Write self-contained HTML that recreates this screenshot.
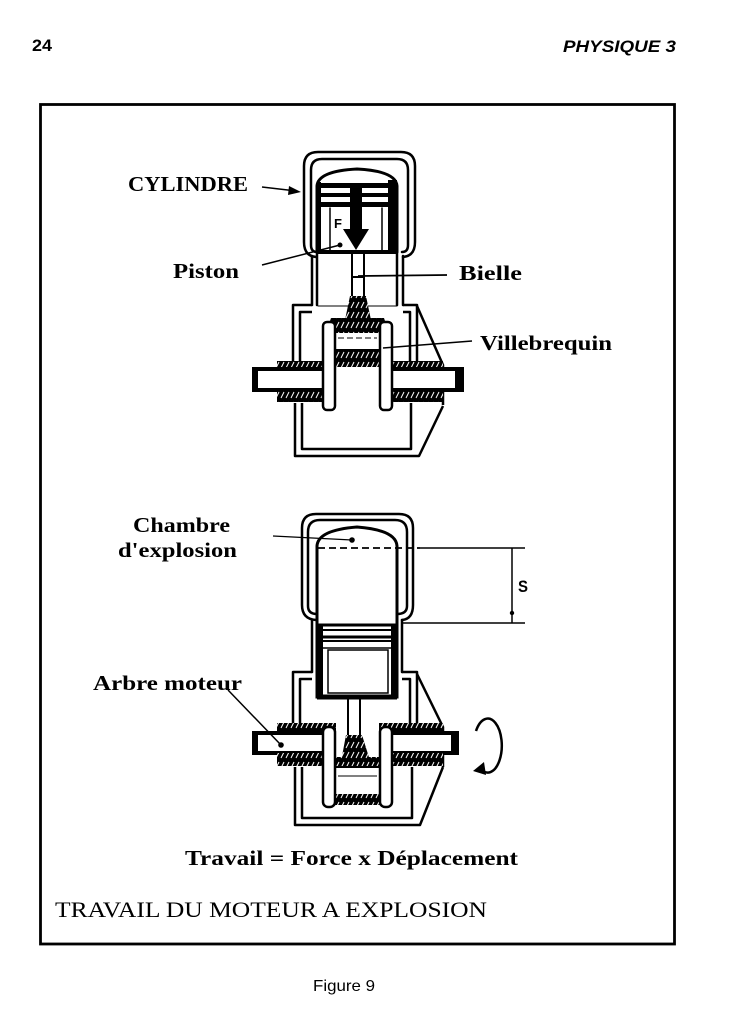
<!DOCTYPE html>
<html><head><meta charset="utf-8"><style>
html,body{margin:0;padding:0;background:#fff;}
svg{display:block;}
.lb{font-family:"Liberation Serif",serif;font-weight:bold;font-size:21px;fill:#000;}
</style></head><body>
<svg width="746" height="1024" viewBox="0 0 746 1024" xmlns="http://www.w3.org/2000/svg">
<defs>
<pattern id="h" width="5" height="10" patternUnits="userSpaceOnUse">
<rect width="5" height="10" fill="#000"/>
<line x1="1" y1="8" x2="4" y2="2" stroke="#fff" stroke-width="1"/>
</pattern>
</defs>
<rect x="0" y="0" width="746" height="1024" fill="#fff"/>

<!-- header -->
<text x="32" y="51" font-family="Liberation Sans, sans-serif" font-weight="bold" font-size="17" textLength="20" lengthAdjust="spacingAndGlyphs">24</text>
<text x="563" y="52" font-family="Liberation Sans, sans-serif" font-weight="bold" font-style="italic" font-size="17" textLength="113" lengthAdjust="spacingAndGlyphs">PHYSIQUE 3</text>

<!-- frame -->
<rect x="40.5" y="104.5" width="634" height="839.5" fill="none" stroke="#000" stroke-width="2.8"/>

<!-- ============ TOP ENGINE ============ -->
<g fill="none" stroke="#000" stroke-width="2.5" stroke-linejoin="round" stroke-linecap="round">
  <!-- cap -->
  <path d="M316 257 Q304 256 304 242 L304 166 Q304 152 318 152 L401 152 Q415 152 415 166 L415 242 Q415 256 403 257"/>
  <path d="M317 252 Q311 252 311 245 L311 170 Q311 159 322 159 L397 159 Q408 159 408 170 L408 245 Q408 252 402 252"/>
  <!-- walls -->
  <line x1="312" y1="256" x2="312" y2="305"/>
  <line x1="317" y1="252" x2="317" y2="305"/>
  <line x1="397" y1="252" x2="397" y2="305"/>
  <line x1="403" y1="256" x2="403" y2="305"/>
  <line x1="318" y1="306" x2="397" y2="306" stroke-width="1"/>
  <!-- piston -->
  <path d="M317 252 L317 186 Q318 171 357 169 Q396 171 397 186 L397 252 Z" stroke-width="3"/>
  <line x1="330" y1="208" x2="330" y2="250" stroke-width="1.5"/>
  <line x1="382" y1="208" x2="382" y2="250" stroke-width="1.5"/>
</g>
<rect x="388" y="180" width="9" height="72" fill="#000"/>
<rect x="317" y="182" width="4" height="70" fill="#000"/>
<rect x="320" y="183" width="72" height="5" fill="#000"/>
<rect x="320" y="193" width="72" height="4" fill="#000"/>
<rect x="320" y="202" width="72" height="5" fill="#000"/>
<rect x="316" y="250" width="82" height="4" fill="#000"/>
<rect x="350" y="183" width="12" height="48" fill="#000"/>
<polygon points="343,229 369,229 356,250" fill="#000"/>
<text x="334" y="228" font-family="Liberation Sans, sans-serif" font-weight="bold" font-size="13">F</text>
<circle cx="340" cy="245" r="2.5" fill="#000"/>

<!-- conrod top -->
<g stroke="#000" stroke-width="2" fill="none">
  <line x1="352" y1="254" x2="352" y2="300"/>
  <line x1="364" y1="254" x2="364" y2="300"/>
  <line x1="353" y1="277" x2="363" y2="277"/>
</g>
<polygon points="350,296 366,296 371,320 345,320" fill="url(#h)"/>

<!-- crankcase top -->
<g fill="none" stroke="#000" stroke-width="2.5" stroke-linejoin="round">
  <path d="M293 362 L293 305 L312 305"/>
  <path d="M300 362 L300 312 L312 312"/>
  <path d="M403 305 L417 305 L417 362"/>
  <path d="M403 312 L410 312 L410 362"/>
  <path d="M417 306 L443 365 L443 405"/>
  <path d="M295 403 L295 456 L419 456 L443 406"/>
  <path d="M302 403 L302 449 L411 449 L411 403"/>
</g>
<rect x="277" y="361" width="166" height="8" fill="url(#h)"/>
<rect x="254" y="369" width="208" height="21" fill="#fff" stroke="#000" stroke-width="4"/>
<rect x="252" y="369" width="6" height="21" fill="#000"/>
<rect x="455" y="369" width="7" height="21" fill="#000"/>
<rect x="277" y="391" width="166" height="11" fill="url(#h)"/>
<rect x="336" y="366" width="43" height="38" fill="#fff"/>
<rect x="335" y="349" width="45" height="18" fill="url(#h)"/>
<rect x="335" y="332" width="45" height="18" fill="#fff" stroke="#000" stroke-width="2"/>
<line x1="338" y1="338" x2="377" y2="338" stroke="#000" stroke-width="1" stroke-dasharray="6 3"/>
<polygon points="326,333 331,318 384,318 389,333" fill="url(#h)"/>
<rect x="323" y="322" width="12" height="88" rx="4" fill="#fff" stroke="#000" stroke-width="2.5"/>
<rect x="380" y="322" width="12" height="88" rx="4" fill="#fff" stroke="#000" stroke-width="2.5"/>

<!-- top labels & leaders -->
<text class="lb" x="128" y="191" textLength="120" lengthAdjust="spacingAndGlyphs">CYLINDRE</text>
<line x1="262" y1="187" x2="292" y2="190.5" stroke="#000" stroke-width="1.5"/>
<polygon points="301,192 289,186 288,195" fill="#000"/>
<text class="lb" x="173" y="278" textLength="66" lengthAdjust="spacingAndGlyphs">Piston</text>
<line x1="262" y1="265" x2="340" y2="245" stroke="#000" stroke-width="1.5"/>
<text class="lb" x="459" y="280" textLength="63" lengthAdjust="spacingAndGlyphs">Bielle</text>
<line x1="358" y1="276" x2="447" y2="275" stroke="#000" stroke-width="1.8"/>
<text class="lb" x="480" y="350" textLength="132" lengthAdjust="spacingAndGlyphs">Villebrequin</text>
<line x1="383" y1="348" x2="472" y2="341" stroke="#000" stroke-width="1.5"/>

<!-- ============ BOTTOM ENGINE ============ -->
<g fill="none" stroke="#000" stroke-width="2.5" stroke-linejoin="round" stroke-linecap="round">
  <path d="M316 620 Q302 619 302 605 L302 528 Q302 514 316 514 L399 514 Q413 514 413 528 L413 605 Q413 619 402 620"/>
  <path d="M317 614 Q308 614 308 606 L308 532 Q308 520 320 520 L395 520 Q407 520 407 532 L407 606 Q407 614 397 614"/>
  <path d="M317 672 L317 546 Q318 530 357 527 Q396 530 397 546 L397 672" stroke-width="3"/>
  <line x1="312" y1="620" x2="312" y2="672"/>
  <line x1="402" y1="620" x2="402" y2="672"/>
</g>
<line x1="318" y1="548" x2="420" y2="548" stroke="#000" stroke-width="1.8" stroke-dasharray="7 4"/>
<line x1="420" y1="548" x2="525" y2="548" stroke="#000" stroke-width="1.5"/>
<line x1="403" y1="623" x2="525" y2="623" stroke="#000" stroke-width="1.5"/>
<line x1="512" y1="548" x2="512" y2="623" stroke="#000" stroke-width="1.5"/>
<circle cx="512" cy="613" r="2.2" fill="#000"/>
<text x="518" y="592" font-family="Liberation Sans, sans-serif" font-weight="bold" font-size="17" textLength="10" lengthAdjust="spacingAndGlyphs">S</text>
<circle cx="352" cy="540" r="2.8" fill="#000"/>
<line x1="273" y1="536" x2="352" y2="540" stroke="#000" stroke-width="1.3"/>

<!-- piston bottom -->
<rect x="317" y="625" width="80" height="72" fill="#fff" stroke="#000" stroke-width="3"/>
<rect x="317" y="625" width="6" height="72" fill="#000"/>
<rect x="391" y="625" width="6" height="72" fill="#000"/>
<g stroke="#000" fill="none">
  <line x1="317" y1="630" x2="397" y2="630" stroke-width="2"/>
  <line x1="317" y1="637" x2="397" y2="637" stroke-width="3"/>
  <line x1="317" y1="641" x2="397" y2="641" stroke-width="2"/>
  <line x1="317" y1="648" x2="397" y2="648" stroke-width="1.5"/>
  <rect x="328" y="650" width="60" height="43" stroke-width="1.5"/>
  <line x1="317" y1="697" x2="397" y2="697" stroke-width="5"/>
</g>
<!-- conrod bottom -->
<g stroke="#000" stroke-width="2" fill="none">
  <line x1="348" y1="699" x2="348" y2="738"/>
  <line x1="360" y1="699" x2="360" y2="738"/>
</g>

<!-- crankcase bottom -->
<g fill="none" stroke="#000" stroke-width="2.5" stroke-linejoin="round">
  <path d="M293 723 L293 672 L312 672"/>
  <path d="M300 723 L300 679 L312 679"/>
  <path d="M402 672 L417 672 L417 723"/>
  <path d="M402 679 L410 679 L410 723"/>
  <path d="M417 674 L443 727 L443 767"/>
  <path d="M295 767 L295 825 L420 825 L443 767"/>
  <path d="M302 767 L302 818 L412 818 L412 767"/>
</g>
<rect x="277" y="723" width="166" height="10" fill="url(#h)"/>
<rect x="254" y="733" width="203" height="20" fill="#fff" stroke="#000" stroke-width="4"/>
<rect x="252" y="733" width="6" height="20" fill="#000"/>
<rect x="451" y="733" width="6" height="20" fill="#000"/>
<rect x="277" y="753" width="166" height="13" fill="url(#h)"/>
<rect x="336" y="722" width="43" height="35" fill="#fff"/>
<g stroke="#000" stroke-width="2" fill="none">
  <line x1="348" y1="720" x2="348" y2="738"/>
  <line x1="360" y1="720" x2="360" y2="738"/>
</g>
<polygon points="346,735 362,735 372,767 340,767" fill="url(#h)"/>
<rect x="335" y="767" width="45" height="28" fill="#fff" stroke="#000" stroke-width="2"/>
<line x1="338" y1="776" x2="377" y2="776" stroke="#000" stroke-width="1"/>
<rect x="327" y="794" width="61" height="11" fill="url(#h)"/>
<rect x="323" y="727" width="12" height="80" rx="5" fill="#fff" stroke="#000" stroke-width="2.5"/>
<rect x="380" y="727" width="12" height="80" rx="5" fill="#fff" stroke="#000" stroke-width="2.5"/>

<!-- arbre moteur leader -->
<line x1="228" y1="690" x2="281" y2="745" stroke="#000" stroke-width="1.5"/>
<circle cx="281" cy="745" r="2.8" fill="#000"/>

<!-- rotation arrow -->
<path d="M476 731 A14 27 0 1 1 480 768" fill="none" stroke="#000" stroke-width="2.5"/>
<polygon points="473,771 484,762 486,775" fill="#000"/>

<!-- bottom labels -->
<text class="lb" x="133" y="532" textLength="97" lengthAdjust="spacingAndGlyphs">Chambre</text>
<text class="lb" x="118" y="557" textLength="119" lengthAdjust="spacingAndGlyphs">d'explosion</text>
<text class="lb" x="93" y="690" textLength="149" lengthAdjust="spacingAndGlyphs">Arbre moteur</text>

<text class="lb" x="185" y="865" textLength="333" lengthAdjust="spacingAndGlyphs">Travail = Force x Déplacement</text>
<text x="55" y="917" font-family="Liberation Serif, serif" font-size="22" textLength="432" lengthAdjust="spacingAndGlyphs">TRAVAIL DU MOTEUR A EXPLOSION</text>

<text x="313" y="991" font-family="Liberation Sans, sans-serif" font-size="16" textLength="62" lengthAdjust="spacingAndGlyphs">Figure 9</text>
</svg>
</body></html>
